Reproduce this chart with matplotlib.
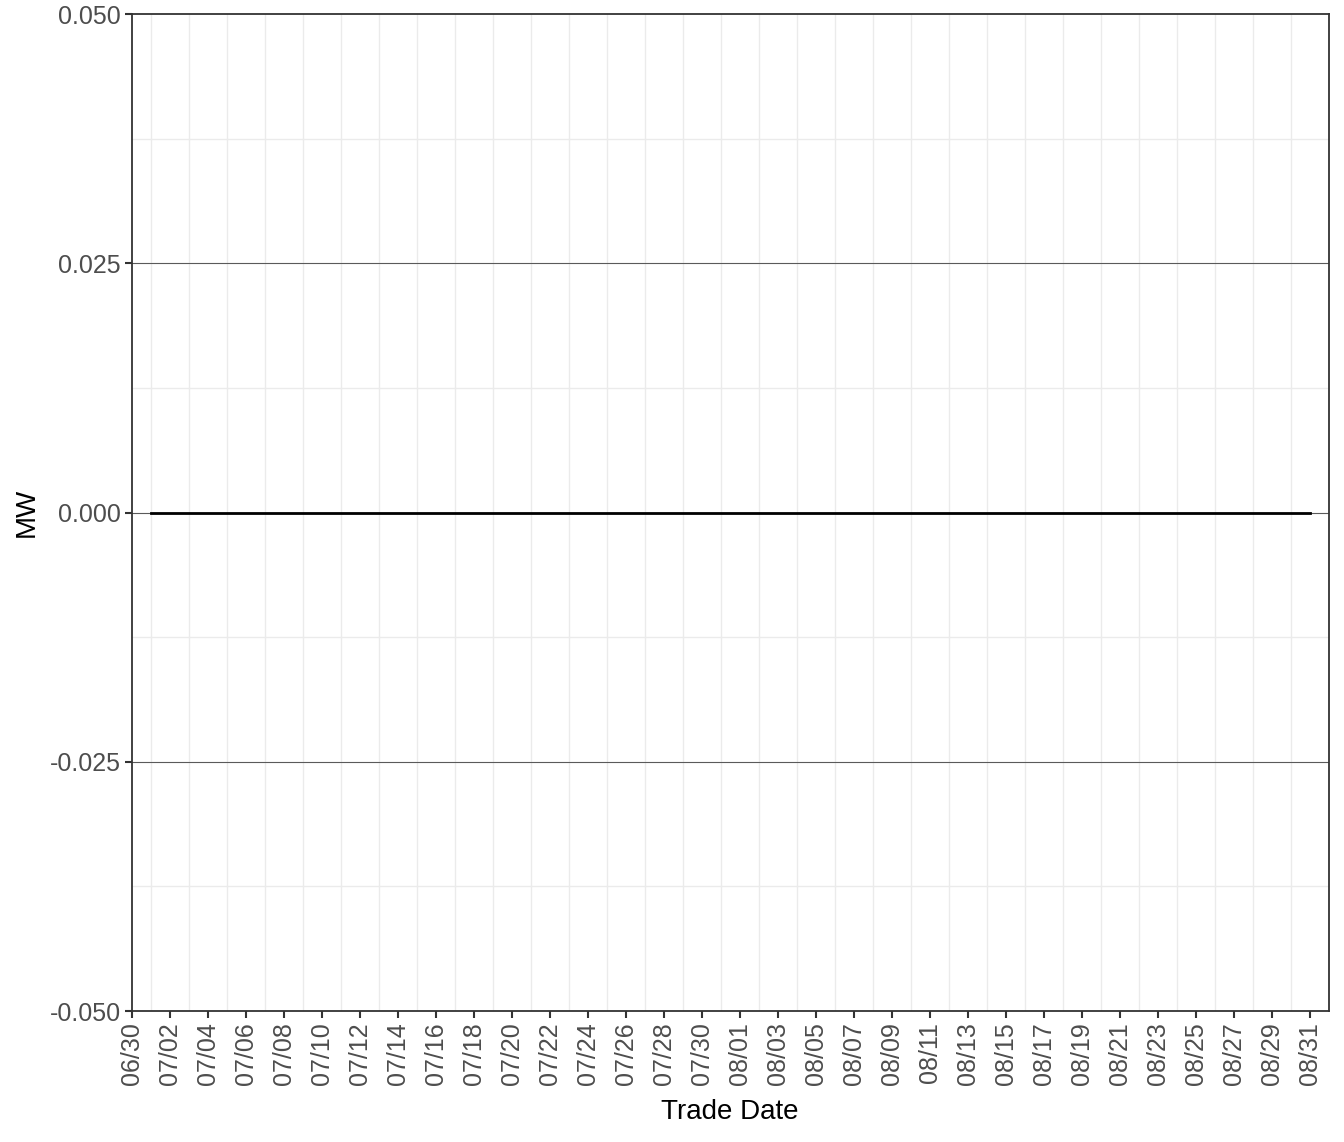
import pandas as pd
import matplotlib
matplotlib.use("Agg")
import matplotlib.pyplot as plt
import matplotlib.dates as mdates

# datos
trade_dates = pd.date_range("2023-07-01", "2023-08-31", freq="D")
mw_values = [0.0, 0.0, 0.0, 0.0, 0.0, 0.0, 0.0, 0.0, 0.0, 0.0,
             0.0, 0.0, 0.0, 0.0, 0.0, 0.0, 0.0, 0.0, 0.0, 0.0,
             0.0, 0.0, 0.0, 0.0, 0.0, 0.0, 0.0, 0.0, 0.0, 0.0,
             0.0, 0.0, 0.0, 0.0, 0.0, 0.0, 0.0, 0.0, 0.0, 0.0,
             0.0, 0.0, 0.0, 0.0, 0.0, 0.0, 0.0, 0.0, 0.0, 0.0,
             0.0, 0.0, 0.0, 0.0, 0.0, 0.0, 0.0, 0.0, 0.0, 0.0,
             0.0, 0.0]
y_ticks = [-0.05, -0.025, 0.0, 0.025, 0.05]
y_minor = [-0.0375, -0.0125, 0.0125, 0.0375]
x_ticks = pd.date_range("2023-06-30", "2023-08-31", freq="2D")
x_minor = pd.date_range("2023-07-01", "2023-08-31", freq="2D")

plt.rcParams['font.family'] = ['Liberation Sans', 'DejaVu Sans']

fig = plt.figure(figsize=(13.44, 11.42), dpi=100)
ax = fig.add_axes([0.098, 0.1147, 0.8906, 0.873])

# rejilla
for y in y_minor:
    ax.axhline(y, color="#EBEBEB", lw=1.0, zorder=0)
for x in x_minor:
    ax.axvline(x, color="#EBEBEB", lw=1.0, zorder=0)
for y in y_ticks[1:-1]:
    ax.axhline(y, color="#5A5A5A", lw=0.8, zorder=1)

ax.plot(trade_dates, mw_values, color="black", lw=2.0, zorder=3)

ax.set_xlim(pd.Timestamp("2023-06-30"), pd.Timestamp("2023-09-01"))
ax.set_ylim(-0.05, 0.05)
ax.set_yticks(y_ticks)
ax.set_yticklabels([f"{v:.3f}" for v in y_ticks])
ax.set_xticks(x_ticks)
ax.xaxis.set_major_formatter(mdates.DateFormatter("%m/%d"))
plt.setp(ax.get_xticklabels(), rotation=90, ha="center", va="top")

ax.tick_params(axis="both", length=5, width=1.5, color="#333333",
               labelsize=18, labelcolor="#4D4D4D", pad=3)
for s in ax.spines.values():
    s.set_color("#333333")
    s.set_linewidth(1.3)

ax.set_xlabel("Trade Date", fontsize=20, color="black")
ax.set_ylabel("MW", fontsize=20, color="black")
ax.xaxis.set_label_coords(0.5, -0.0885)
ax.yaxis.set_label_coords(-0.077, 0.5)

fig.savefig("out.png", dpi=100, facecolor="white")
